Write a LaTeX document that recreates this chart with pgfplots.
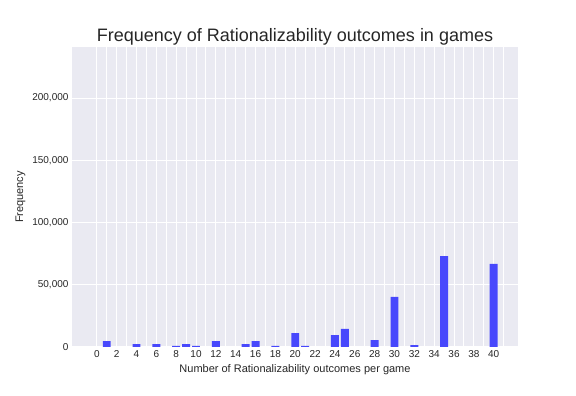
\documentclass[border=0pt]{standalone}
\usepackage{pgfplots}
\pgfplotsset{compat=1.18}
\usepackage{fontspec}
\setmainfont{Liberation Sans}
\definecolor{sbbg}{RGB}{234,234,242}
\definecolor{barblue}{RGB}{72,72,252}
\definecolor{txt}{RGB}{38,38,38}
\begin{document}
\begin{tikzpicture}
\path[use as bounding box] (-72pt,-49pt) rectangle (504pt,347pt);
\begin{axis}[
  at={(0pt,0pt)}, anchor=south west,
  scale only axis, width=446pt, height=300pt,
  xmin=-2.5, xmax=42.45, ymin=0, ymax=241000,
  axis background/.style={fill=sbbg},
  axis line style={draw=none},
  major tick length=0pt, minor tick length=0pt,
  xtick={0,2,...,40}, minor xtick={1,3,...,41},
  ytick={0,50000,100000,150000,200000},
  grid=both,
  major grid style={white, line width=1pt},
  minor grid style={white, line width=1pt},
  scaled y ticks=false,
  /pgf/number format/assume math mode=true,
  yticklabel style={/pgf/number format/fixed, /pgf/number format/1000 sep={,}, font=\fontsize{10}{12}\selectfont, text=txt},
  xticklabel style={font=\fontsize{10}{12}\selectfont, text=txt},
  title={Frequency of Rationalizability outcomes in games},
  title style={font=\fontsize{18}{21}\selectfont, text=txt, at={(0.5,1)}, anchor=base, yshift=-1pt, inner sep=0pt},
  xlabel={Number of Rationalizability outcomes per game},
  ylabel={Frequency},
  xlabel style={font=\fontsize{11}{13}\selectfont, text=txt},
  ylabel style={font=\fontsize{11}{13}\selectfont, text=txt},
  ybar, bar width=0.8,
]
\addplot[fill=barblue, draw=none] coordinates {
(1,4800) (4,2400) (6,2400) (8,1000) (9,2400) (10,1000) (12,4800)
(15,2400) (16,4800) (18,1000) (20,11200) (21,1000) (24,9600) (25,14500)
(28,5600) (30,40200) (32,1600) (35,73000) (40,66700)
};
\end{axis}
\end{tikzpicture}
\end{document}
